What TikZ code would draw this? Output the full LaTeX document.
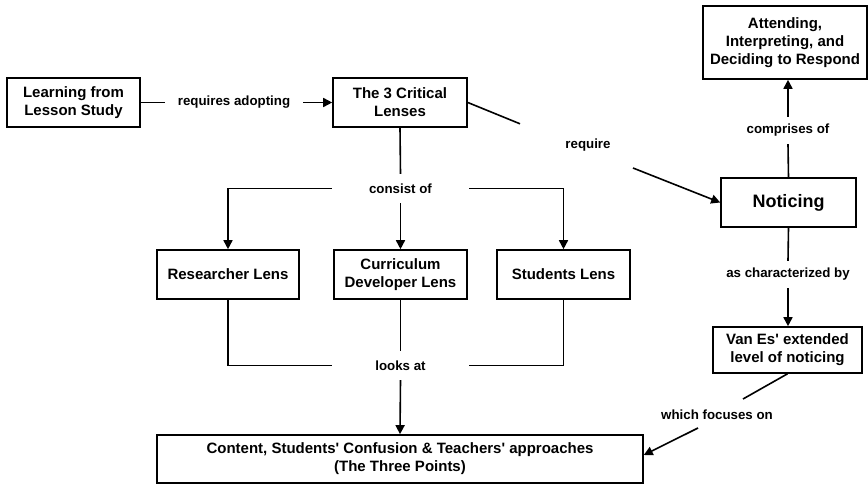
\documentclass[tikz,border=0pt]{standalone}
\usepackage{fontspec}
\setmainfont{Liberation Sans}
\usetikzlibrary{arrows.meta}
\tikzset{
  box/.style={draw, line width=1.6pt, align=center, inner sep=0pt,
    font=\bfseries\fontsize{15}{18}\selectfont},
  lab/.style={inner sep=0pt, align=center,
    font=\bfseries\fontsize{13.3}{16}\selectfont},
  conn/.style={line width=1.6pt},
  arr/.style={line width=1.6pt, -{Triangle[length=9pt,width=9pt]}}
}
\begin{document}
\begin{tikzpicture}[x=1pt,y=-1pt]
\useasboundingbox (0,0) rectangle (868,484);
% boxes
\node[box, minimum width=133, minimum height=49] (learn) at (73.5,102.5) {Learning from\\Lesson Study};
\node[box, minimum width=134, minimum height=49] (lenses) at (400,102.5) {The 3 Critical\\Lenses};
\node[box, minimum width=164, minimum height=73] (attend) at (785,42.5) {Attending,\\Interpreting, and\\Deciding to Respond};
\node[box, minimum width=135, minimum height=49, font=\bfseries\fontsize{18}{21}\selectfont] (notice) at (788.5,202.5) {Noticing};
\node[box, minimum width=142, minimum height=49] (res) at (228,274.5) {Researcher Lens};
\node[box, minimum width=133, minimum height=49] (curr) at (400.5,274.5) {Curriculum\\Developer Lens};
\node[box, minimum width=133, minimum height=49] (stud) at (563.5,274.5) {Students Lens};
\node[box, minimum width=149, minimum height=46] (vanes) at (787.5,350) {Van Es\textquotesingle{} extended\\level of noticing};
\node[box, minimum width=486, minimum height=48] (content) at (400,459) {Content, Students\textquotesingle{} Confusion \& Teachers\textquotesingle{} approaches\\(The Three Points)};
% labels
\node[lab, minimum width=138, minimum height=20] (lreq) at (234,102.5) {requires adopting};
\node[lab, minimum width=137, minimum height=29] (lconsist) at (400.5,188.5) {consist of};
\node[lab, minimum width=137, minimum height=29] (llooks) at (400.5,365.5) {looks at};
\node[lab] (lrequire) at (588,145) {require};
\node[lab, minimum width=100, minimum height=27] (lcomp) at (788,130.5) {comprises of};
\node[lab, minimum width=130, minimum height=27] (lchar) at (788,274.5) {as characterized by};
\node[lab] (lfocus) at (717,415) {which focuses on};
% free ends of broken connectors
\coordinate (r1) at (520,123.8);
\coordinate (r2) at (633,168);
\coordinate (f1) at (743,399);
\coordinate (f2) at (698,428);
% connectors
\draw[conn] (learn.east) -- (lreq.west);
\draw[arr] (lreq.east) -- (lenses.west);
\draw[conn] (lenses.south) -- (lconsist.north);
\draw[arr] (lconsist.south) -- (curr.north);
\draw[arr] (lconsist.west) -| (res.north);
\draw[arr] (lconsist.east) -| (stud.north);
\draw[conn] (res.south) |- (llooks.west);
\draw[conn] (stud.south) |- (llooks.east);
\draw[conn] (curr.south) -- (llooks.north);
\draw[arr] (llooks.south) -- (content.north);
\draw[conn] (lenses.east) -- (r1);
\draw[arr] (r2) -- (notice.west);
\draw[conn] (notice.north) -- (lcomp.south);
\draw[arr] (lcomp.north) -- (lcomp.north |- attend.south);
\draw[conn] (notice.south) -- (lchar.north);
\draw[arr] (lchar.south) -- (lchar.south |- vanes.north);
\draw[conn] (vanes.south) -- (f1);
\draw[arr] (f2) -- ([yshift=4pt]content.east);
\end{tikzpicture}
\end{document}
